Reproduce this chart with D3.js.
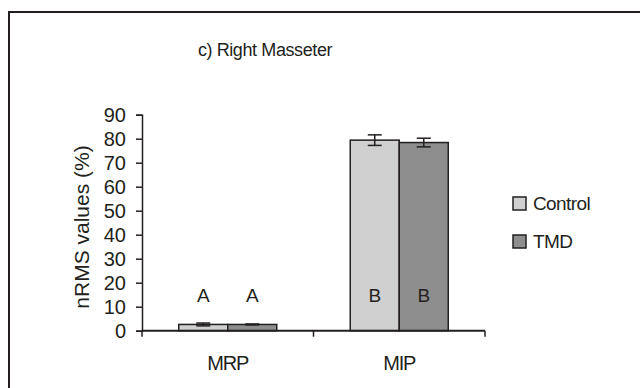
<!DOCTYPE html>
<html>
<head>
<meta charset="utf-8">
<script src="https://cdnjs.cloudflare.com/ajax/libs/d3/7.8.5/d3.min.js"></script>
<style>
  body { margin: 0; background: #fff; }
  text { font-family: "Liberation Sans", Arial, sans-serif; fill: #231f20; }
</style>
</head>
<body>
<svg id="chart" width="640" height="388"></svg>
<script>
// data
const categories = ["MRP", "MIP"];
const groups = ["Control", "TMD"];
const controlValues = [2.6, 79.4];
const controlErrors = [0.6, 2.2];
const tmdValues = [2.6, 78.4];
const tmdErrors = [0.2, 1.8];
const letters = [["A", "A"], ["B", "B"]];
const yTicks = [0, 10, 20, 30, 40, 50, 60, 70, 80, 90];

const colors = { Control: "#d0d0d0", TMD: "#8e8e8e" };
const ink = "#231f20";

const svg = d3.select("#chart");

// outer frame (runs past the right and bottom edge)
svg.append("rect")
    .attr("x", 9).attr("y", 12)
    .attr("width", 700).attr("height", 500)
    .attr("fill", "none")
    .attr("stroke", ink)
    .attr("stroke-width", 2);

// title
svg.append("text")
    .attr("x", 265).attr("y", 56)
    .attr("text-anchor", "middle")
    .style("font-size", "18px")
    .style("letter-spacing", "-0.4px")
    .text("c) Right Masseter");

// scales
const x = d3.scaleBand()
    .domain(categories)
    .range([142, 485])
    .padding(0);

const xInner = d3.scaleBand()
    .domain(groups)
    .range([0, x.bandwidth()])
    .paddingInner(0)
    .paddingOuter(0.75);

const y = d3.scaleLinear()
    .domain([0, 90])
    .range([330.7, 114.7]);

// table built from arrays
const rows = [];
categories.forEach((c, i) => {
    rows.push({ cat: c, group: "Control", value: controlValues[i], err: controlErrors[i], letter: letters[i][0] });
    rows.push({ cat: c, group: "TMD", value: tmdValues[i], err: tmdErrors[i], letter: letters[i][1] });
});

// bars
svg.selectAll("rect.bar")
    .data(rows)
    .enter()
    .append("rect")
    .attr("class", "bar")
    .attr("x", d => x(d.cat) + xInner(d.group))
    .attr("y", d => y(d.value))
    .attr("width", xInner.bandwidth())
    .attr("height", d => y(0) - y(d.value))
    .attr("fill", d => colors[d.group])
    .attr("stroke", ink)
    .attr("stroke-width", 1.5);

// error bars
const errG = svg.selectAll("g.err")
    .data(rows)
    .enter()
    .append("g")
    .attr("class", "err")
    .attr("transform", d => `translate(${x(d.cat) + xInner(d.group) + xInner.bandwidth() / 2},0)`)
    .attr("stroke", ink)
    .attr("stroke-width", 1.5);

errG.append("line")
    .attr("x1", 0).attr("x2", 0)
    .attr("y1", d => y(d.value + d.err))
    .attr("y2", d => y(d.value - d.err));
errG.append("line")
    .attr("x1", -7).attr("x2", 7)
    .attr("y1", d => y(d.value + d.err))
    .attr("y2", d => y(d.value + d.err));
errG.append("line")
    .attr("x1", -7).attr("x2", 7)
    .attr("y1", d => y(d.value - d.err))
    .attr("y2", d => y(d.value - d.err));

// significance letters
svg.selectAll("text.letter")
    .data(rows)
    .enter()
    .append("text")
    .attr("class", "letter")
    .attr("x", d => x(d.cat) + xInner(d.group) + xInner.bandwidth() / 2)
    .attr("y", y(11.8))
    .attr("text-anchor", "middle")
    .style("font-size", "19px")
    .text(d => d.letter);

// y axis
const yAxis = svg.append("g")
    .attr("transform", `translate(${x.range()[0]},0)`)
    .call(d3.axisLeft(y).tickValues(yTicks).tickSize(6).tickPadding(10));
yAxis.select(".domain").attr("stroke", ink).attr("stroke-width", 1.5);
yAxis.selectAll(".tick line").attr("stroke", ink).attr("stroke-width", 1.5);
yAxis.selectAll(".tick text")
    .attr("fill", ink)
    .style("font-family", "Liberation Sans, Arial, sans-serif")
    .style("font-size", "20px");

// x axis: ticks on category boundaries
const xAxis = svg.append("g")
    .attr("transform", `translate(0,${y(0)})`);
xAxis.append("line")
    .attr("x1", x.range()[0]).attr("x2", x.range()[1])
    .attr("y1", 0).attr("y2", 0)
    .attr("stroke", ink).attr("stroke-width", 2);
xAxis.selectAll("line.bound")
    .data(categories.map(c => x(c)).concat([x.range()[1]]))
    .enter()
    .append("line")
    .attr("class", "bound")
    .attr("x1", d => d).attr("x2", d => d)
    .attr("y1", 0).attr("y2", 6)
    .attr("stroke", ink).attr("stroke-width", 1.5);
xAxis.selectAll("text.cat")
    .data(categories)
    .enter()
    .append("text")
    .attr("class", "cat")
    .attr("x", d => x(d) + x.bandwidth() / 2)
    .attr("y", 39)
    .attr("text-anchor", "middle")
    .style("font-size", "20px")
    .style("letter-spacing", "-1.2px")
    .text(d => d);

// y axis label
svg.append("text")
    .attr("transform", "translate(89,227) rotate(-90)")
    .attr("text-anchor", "middle")
    .style("font-size", "21px")
    .text("nRMS values (%)");

// legend
const legend = svg.selectAll("g.legend")
    .data(groups)
    .enter()
    .append("g")
    .attr("class", "legend")
    .attr("transform", (d, i) => `translate(513,${197 + i * 38})`);
legend.append("rect")
    .attr("width", 13).attr("height", 13)
    .attr("fill", d => colors[d])
    .attr("stroke", ink)
    .attr("stroke-width", 1.5);
legend.append("text")
    .attr("x", 20).attr("y", 13)
    .style("font-size", "19px")
    .style("letter-spacing", "-0.6px")
    .text(d => d);
</script>
</body>
</html>
